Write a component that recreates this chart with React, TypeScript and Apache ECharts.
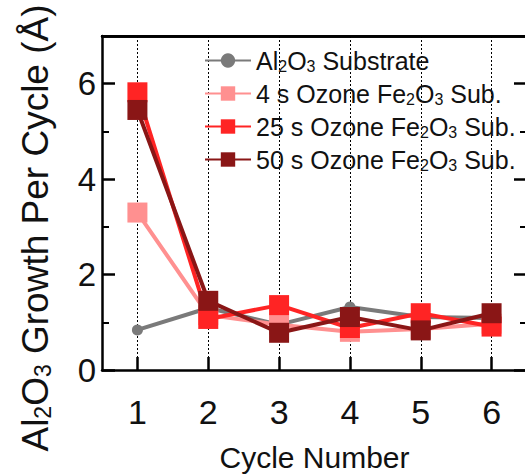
import React, { useEffect, useRef } from "react";
import * as echarts from "echarts";

const cycles = [1, 2, 3, 4, 5, 6];
const al2o3Sub = [0.84, 1.3, 0.95, 1.32, 1.11, 1.09];
const ozone4s = [3.3, 1.15, 0.95, 0.8, 0.86, 0.97];
const ozone25s = [5.82, 1.07, 1.36, 0.88, 1.19, 0.91];
const ozone50s = [5.45, 1.45, 0.78, 1.11, 0.83, 1.19];
const yTicks = [0, 2, 4, 6];
const yMax = 7;

const seriesNames = [
  "Al{s|2}O{s|3} Substrate",
  "4 s Ozone Fe{s|2}O{s|3} Sub.",
  "25 s Ozone Fe{s|2}O{s|3} Sub.",
  "50 s Ozone Fe{s|2}O{s|3} Sub.",
];
const colors = ["#7a7a7a", "#ff9090", "#ff2424", "#8a1616"];

const FONT = "Liberation Sans, Arial, Helvetica, sans-serif";

const GRID = { left: 102, top: 36, width: 425, height: 334 };

export default function App() {
  const ref = useRef<HTMLDivElement>(null);
  useEffect(() => {
    if (!ref.current) return;
    const chart = echarts.init(ref.current, undefined, { renderer: "svg" });
    const mk = (vals: number[]) => vals.map((v, i) => [cycles[i], v]);
    const datasets = [al2o3Sub, ozone4s, ozone25s, ozone50s];
    const series: any[] = datasets.map((d, i) => ({
      name: seriesNames[i],
      type: "line",
      data: mk(d),
      symbol: i === 0 ? "circle" : "rect",
      symbolSize: i === 0 ? 11 : 20,
      showSymbol: true,
      itemStyle: { color: colors[i], opacity: 1 },
      lineStyle: { color: colors[i], width: 4 },
      z: 2 + i,
    }));
    // top frame line of the plot box
    series[0].markLine = {
      silent: true,
      symbol: "none",
      label: { show: false },
      lineStyle: { color: "#000", width: 2.5, type: "solid" },
      data: [{ yAxis: yMax }],
    };
    series.push({ type: "line", xAxisIndex: 1, yAxisIndex: 1, data: [], silent: true });
    const axisLine = { show: true, onZero: false, lineStyle: { color: "#000", width: 2.5 } };
    chart.setOption({
      animation: false,
      grid: {
        ...GRID,
        containLabel: false,
        outerBoundsMode: "none",
      },
      graphic: {
        elements: [
          {
            type: "rect",
            left: GRID.left - 1,
            top: GRID.top - 1,
            z: 100,
            shape: { width: GRID.width + 1, height: 2.5 },
            style: { fill: "#000" },
          },
        ],
      },
      legend: {
        left: 199,
        top: 43,
        orient: "vertical",
        itemWidth: 46,
        itemHeight: 18,
        itemGap: 7,
        textStyle: {
          fontFamily: FONT,
          fontSize: 25,
          color: "#111",
          rich: {
            s: { fontFamily: FONT, fontSize: 16, color: "#111", padding: [11, 0, 0, 0] },
          },
        },
        data: seriesNames,
      },
      xAxis: [
        {
          type: "value",
          min: 0.5,
          max: 6.5,
          interval: 1,
          name: "Cycle Number",
          nameLocation: "middle",
          nameGap: 72,
          nameMoveOverlap: false,
          nameTextStyle: { fontFamily: FONT, fontSize: 30, color: "#111" },
          axisLine,
          axisTick: { show: true, inside: true, length: 13, lineStyle: { color: "#000", width: 2.5 }, customValues: cycles },
          axisLabel: {
            fontFamily: FONT,
            fontSize: 34,
            color: "#111",
            margin: 25,
            customValues: cycles,
            formatter: (v: number) => String(v),
          },
          splitLine: { show: true, lineStyle: { color: "#000", width: 1, type: [2, 2] } },
        },
        {
          type: "value",
          position: "top",
          min: 0.5,
          max: 6.5,
          axisLine,
          axisTick: { show: false },
          axisLabel: { show: false },
          splitLine: { show: false },
        },
      ],
      yAxis: [
        {
          type: "value",
          min: 0,
          max: yMax,
          interval: 2,
          name: "Al{s|2}O{s|3} Growth Per Cycle (Å)",
          nameLocation: "middle",
          nameGap: 48,
          nameMoveOverlap: false,
          nameTextStyle: {
            fontFamily: FONT,
            fontSize: 37,
            color: "#111",
            padding: [0, 50, 0, 0],
            rich: {
              s: { fontFamily: FONT, fontSize: 23, color: "#111", padding: [15, 0, 0, 0] },
            },
          },
          axisLine,
          axisTick: { show: true, inside: true, length: 13, lineStyle: { color: "#000", width: 2.5 }, customValues: yTicks },
          minorTick: { show: true, splitNumber: 2, length: 7, lineStyle: { color: "#000", width: 2 } },
          axisLabel: {
            fontFamily: FONT,
            fontSize: 33,
            color: "#111",
            margin: 6,
            customValues: yTicks,
            formatter: (v: number) => String(v),
          },
          splitLine: { show: false },
        },
        {
          type: "value",
          position: "right",
          min: 0,
          max: yMax,
          interval: 2,
          axisLine,
          axisTick: { show: true, inside: true, length: 13, lineStyle: { color: "#000", width: 2.5 }, customValues: yTicks },
          minorTick: { show: true, splitNumber: 2, length: 7, lineStyle: { color: "#000", width: 2 } },
          axisLabel: { show: false },
          splitLine: { show: false },
        },
      ],
      series,
    });
    return () => chart.dispose();
  }, []);
  return (
    <div
      ref={ref}
      style={{ position: "absolute", left: 0, top: 0, width: 525, height: 475 }}
    />
  );
}
